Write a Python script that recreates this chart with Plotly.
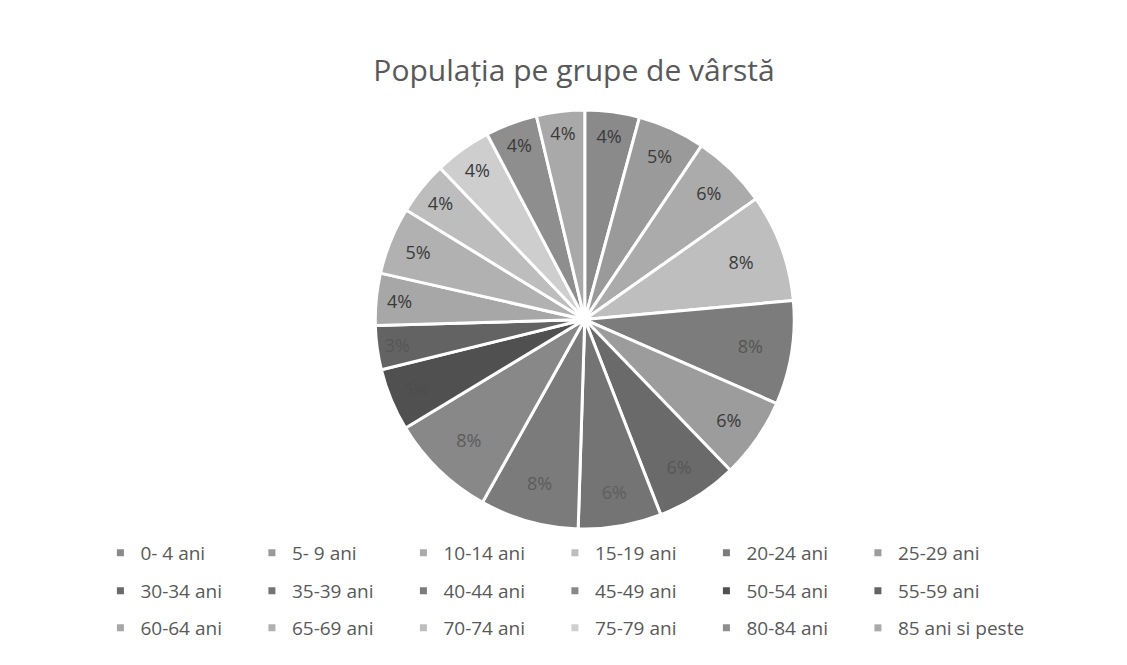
import plotly.graph_objects as go

labels = ["0- 4 ani", "5- 9 ani", "10-14 ani", "15-19 ani", "20-24 ani", "25-29 ani",
          "30-34 ani", "35-39 ani", "40-44 ani", "45-49 ani", "50-54 ani", "55-59 ani",
          "60-64 ani", "65-69 ani", "70-74 ani", "75-79 ani", "80-84 ani", "85 ani si peste"]
values = [4.2, 5.2, 5.8, 8.3, 8.0, 6.2, 6.3, 6.4, 7.6, 8.2, 4.8, 3.4,
          4.0, 5.2, 4.1, 4.4, 4.0, 3.7]
colors = ["#8a8a8a", "#9a9a9a", "#ababab", "#bebebe", "#7c7c7c", "#9c9c9c",
          "#6a6a6a", "#747474", "#7b7b7b", "#888888", "#505050", "#636363",
          "#a7a7a7", "#b1b1b1", "#bdbdbd", "#cecece", "#8e8e8e", "#a9a9a9"]
text_colors = ["#3a3a3a", "#3a3a3a", "#3a3a3a", "#3a3a3a", "#555555", "#3a3a3a",
               "#575757", "#5e5e5e", "#5c5c5c", "#5c5c5c", "#4d4d4d", "#575757",
               "#3a3a3a", "#3a3a3a", "#3a3a3a", "#3a3a3a", "#3a3a3a", "#3a3a3a"]

FONT = "Open Sans, Lato, sans-serif"

fig = go.Figure()
fig.add_trace(go.Pie(
    labels=labels, values=values, sort=False, direction="clockwise", rotation=0,
    marker=dict(colors=colors, line=dict(color="white", width=3)),
    texttemplate="%{percent:.0%}", textposition="inside",
    insidetextorientation="horizontal",
    textfont=dict(family=FONT, size=18, color=text_colors),
    showlegend=False, hoverinfo="label+percent",
    domain=dict(x=[0.3255, 0.698], y=[0.2165, 0.8465]),
))

# legend entries: 3 rows of 6 (last entry in its own legend so its longer text is not clipped)
N_COLS = 6
row_y = [545, 583, 620]
COL_W = 151.5
X0 = 0.082
legend_names = []
for i, (lab, col) in enumerate(zip(labels, colors)):
    name = ["legend", "legend2", "legend3"][i // N_COLS]
    if i == len(labels) - 1:
        name = "legend4"
    legend_names.append(name)
    fig.add_trace(go.Scatter(
        x=[None], y=[None], mode="markers", name=lab,
        marker=dict(symbol="square", size=7, color=col),
        legend=name, showlegend=True, hoverinfo="skip",
    ))

leg_common = dict(orientation="h", xanchor="left", yanchor="middle",
                  entrywidth=COL_W - 45, entrywidthmode="pixels",
                  font=dict(family=FONT, size=19, color="#595959"),
                  bgcolor="rgba(0,0,0,0)", itemclick=False, itemdoubleclick=False,
                  tracegroupgap=0)
layout_legends = {
    "legend": dict(leg_common, x=X0, y=1 - row_y[0] / 665),
    "legend2": dict(leg_common, x=X0, y=1 - row_y[1] / 665),
    "legend3": dict(leg_common, x=X0, y=1 - row_y[2] / 665),
    "legend4": dict(leg_common, entrywidth=200,
                    x=X0 + (N_COLS - 1) * COL_W / 1127, y=1 - row_y[2] / 665),
}

fig.update_layout(
    width=1127, height=665,
    margin=dict(l=0, r=0, t=0, b=0),
    paper_bgcolor="white", plot_bgcolor="white",
    title=dict(text="Populația pe grupe de vârstă", x=566 / 1127, xanchor="center",
               y=1 - 62 / 665, yanchor="middle",
               font=dict(family=FONT, size=30, color="#595959")),
    xaxis=dict(visible=False), yaxis=dict(visible=False),
    **layout_legends,
)

fig.write_html("out.html")
